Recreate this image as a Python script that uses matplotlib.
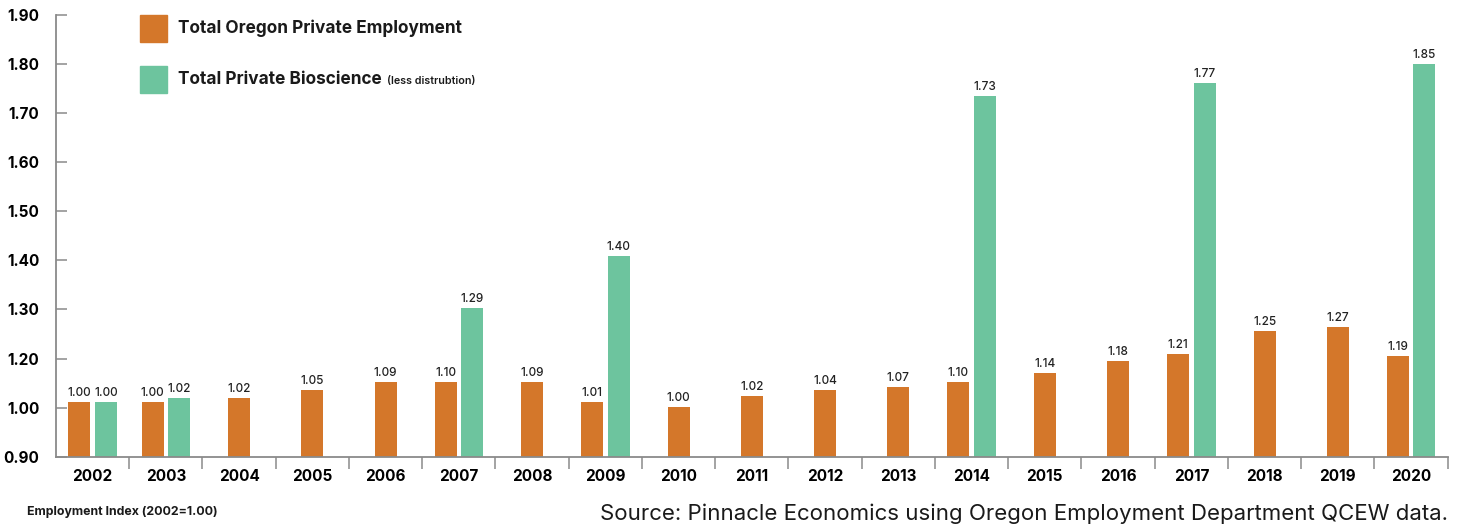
import numpy as np
import matplotlib
matplotlib.use("Agg")
import matplotlib.pyplot as plt
from matplotlib.patches import Rectangle

# data
years = ["2002", "2003", "2004", "2005", "2006", "2007", "2008", "2009", "2010", "2011",
         "2012", "2013", "2014", "2015", "2016", "2017", "2018", "2019", "2020"]
# bar heights as drawn (in the chart's own axis units)
oregon_height = [1.023, 1.023, 1.039, 1.072, 1.104, 1.104, 1.104, 1.023, 1.002, 1.047,
                 1.072, 1.084, 1.104, 1.141, 1.190, 1.209, 1.256, 1.264, 1.205]
bio_height = [1.023, 1.039, None, None, None, 1.303, None, 1.409, None, None,
              None, None, 1.735, None, None, 1.761, None, None, 1.800]
# printed value labels
oregon_label = [1.00, 1.00, 1.02, 1.05, 1.09, 1.10, 1.09, 1.01, 1.00, 1.02,
                1.04, 1.07, 1.10, 1.14, 1.18, 1.21, 1.25, 1.27, 1.19]
bio_label = [1.00, 1.02, None, None, None, 1.29, None, 1.40, None, None,
             None, None, 1.73, None, None, 1.77, None, None, 1.85]
# the y axis skips 1.10
y_ticks = [0.90, 1.00, 1.20, 1.30, 1.40, 1.50, 1.60, 1.70, 1.80, 1.90]

ORANGE = "#D4772A"
GREEN = "#6DC49E"
GREY = "#8a8a8a"
FONT = "Inter"

plt.rcParams["font.family"] = [FONT, "DejaVu Sans"]

fig = plt.figure(figsize=(14.6, 5.27), dpi=100)
ax = fig.add_axes([56 / 1460, 1 - 456.7 / 527, (1447.7 - 56) / 1460, (456.7 - 15) / 527])

# evenly spaced ticks even though the labels are not
tick_pos = np.arange(len(y_ticks))
ax.set_yscale("function", functions=(lambda v: np.interp(v, y_ticks, tick_pos),
                                     lambda p: np.interp(p, tick_pos, y_ticks)))
ax.set_ylim(0.90, 1.90)
ax.set_xlim(-0.5, len(years) - 0.5)

w = 0.30
off = 0.18
base = 0.90
for i in range(len(years)):
    has_bio = bio_height[i] is not None
    xo = i - off if has_bio else i
    ax.bar(xo, oregon_height[i] - base, bottom=base, width=w, color=ORANGE)
    ax.annotate(f"{oregon_label[i]:.2f}", (xo, oregon_height[i]), xytext=(0, 2),
                textcoords="offset points", ha="center", va="bottom", fontsize=8.5,
                fontweight="medium", color="#222222")
    if has_bio:
        xg = i + off
        ax.bar(xg, bio_height[i] - base, bottom=base, width=w, color=GREEN)
        ax.annotate(f"{bio_label[i]:.2f}", (xg, bio_height[i]), xytext=(0, 2),
                    textcoords="offset points", ha="center", va="bottom", fontsize=8.5,
                    fontweight="medium", color="#222222")

for s in ["top", "right"]:
    ax.spines[s].set_visible(False)
for s in ["left", "bottom"]:
    ax.spines[s].set_color(GREY)
    ax.spines[s].set_linewidth(1.3)

ax.set_yticks(y_ticks)
ax.set_yticklabels([f"{v:.2f}" for v in y_ticks], fontsize=11, fontweight="bold")
ax.tick_params(axis="y", direction="in", length=8, width=1.1, color=GREY, pad=12)

ax.set_xticks(np.arange(0.5, len(years) - 0.5 + 0.01, 1.0))
ax.set_xticklabels([])
ax.tick_params(axis="x", which="major", direction="out", length=8.5, width=1.1, color=GREY)
ax.set_xticks(np.arange(len(years)), minor=True)
ax.set_xticklabels(years, minor=True, fontsize=11, fontweight="bold")
ax.tick_params(axis="x", which="minor", length=0, pad=9)

# legend drawn by hand
for ytop, col in [(15, ORANGE), (66, GREEN)]:
    fig.patches.append(Rectangle((140 / 1460, 1 - (ytop + 27) / 527), 27 / 1460, 27 / 527,
                                 transform=fig.transFigure, color=col))
fig.text(178 / 1460, 1 - 28.5 / 527, "Total Oregon Private Employment", fontsize=12.4,
         fontweight="bold", va="center", color="#1a1a1a")
t2 = fig.text(178 / 1460, 1 - 79.5 / 527, "Total Private Bioscience", fontsize=12.4,
              fontweight="bold", va="center", color="#1a1a1a")
ax.annotate("(less distrubtion)", xy=(1, 0), xycoords=t2, xytext=(4, 1.5),
            textcoords="offset points", fontsize=7.7, fontweight="semibold",
            va="bottom", ha="left", color="#1a1a1a", annotation_clip=False)

fig.text(27 / 1460, 1 - 512 / 527, "Employment Index (2002=1.00)", fontsize=8.9,
         fontweight="bold", va="center", color="#1a1a1a")
fig.text(1448 / 1460, 1 - 514 / 527,
         "Source: Pinnacle Economics using Oregon Employment Department QCEW data.",
         fontsize=16, ha="right", va="center", color="#1a1a1a")

fig.savefig("out.png", dpi=100)
